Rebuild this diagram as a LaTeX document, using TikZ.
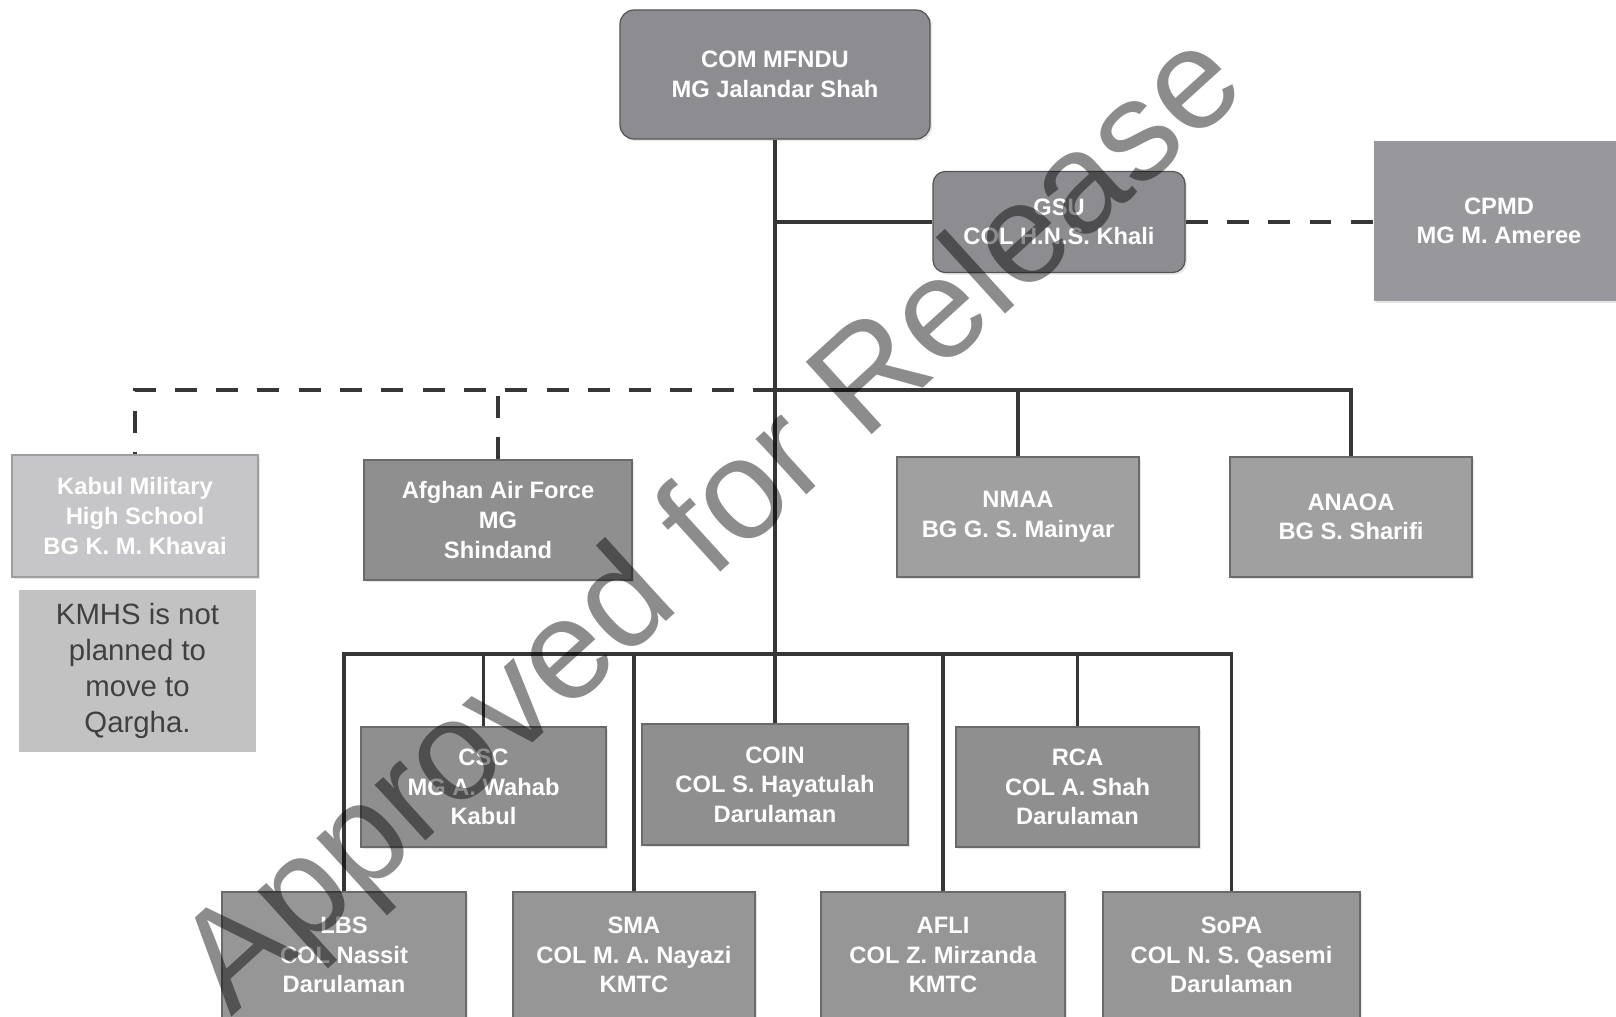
\documentclass[tikz,border=0pt]{standalone}
\usepackage{fontspec}
\setmainfont{Liberation Sans}
\usetikzlibrary{shadows}

\definecolor{headgray}{HTML}{8D8D91}
\definecolor{unitgray}{HTML}{8F8F8F}
\definecolor{lowgray}{HTML}{969696}
\definecolor{sidegray}{HTML}{A0A0A0}
\definecolor{palegray}{HTML}{C6C6C8}
\definecolor{notegray}{HTML}{C2C2C2}
\definecolor{edgegray}{HTML}{6A6A6A}
\definecolor{linegray}{HTML}{363636}

\begin{document}
\begin{tikzpicture}[x=0.2mm,y=-0.2mm,
    unit/.style={draw=edgegray,line width=0.7pt,fill=#1,text=white,align=center,inner sep=0pt,
        font=\bfseries\fontsize{13.5}{16.8}\selectfont,
        drop shadow={opacity=0.2,shadow xshift=1.2pt,shadow yshift=-1.2pt}},
    unit/.default=unitgray,
    link/.style={draw=linegray,line width=1.8pt},
    dashlink/.style={draw=linegray,line width=2.6pt,dash pattern=on 12.5pt off 11pt}]
    \useasboundingbox (0,0) rectangle (1616,1016);
    \clip (0,0) rectangle (1616,1016);
    %top of the chart
    \node[unit=headgray,draw=edgegray!80!black,rounded corners=8pt,minimum width=62mm,minimum height=25.8mm] (com) at (775,74.5) {COM MFNDU\\MG Jalandar Shah};
    \node[unit=headgray,draw=edgegray!80!black,rounded corners=7pt,minimum width=50.4mm,minimum height=20.2mm] (gsu) at (1059,222) {GSU\\COL H.N.S. Khali};
    \node[unit=headgray!90!white,draw=none,minimum width=50mm,minimum height=32mm] (cpmd) at (1499,221) {CPMD\\MG M. Ameree};
    %second row
    \node[unit=palegray,draw=palegray!80!black,minimum width=49.2mm,minimum height=24.4mm] (kmil) at (135,516) {Kabul Military\\High School\\BG K. M. Khavai};
    \node[fill=notegray,text=black!75,align=center,inner sep=0pt,minimum width=47.4mm,minimum height=32.4mm,
        font=\fontsize{16.7}{20.4}\selectfont] (note) at (137.5,671) {KMHS is not\\planned to\\move to\\Qargha.};
    \node[unit,minimum width=53.6mm,minimum height=24mm] (aaf) at (498,520) {Afghan Air Force\\MG\\Shindand};
    \node[unit=sidegray,minimum width=48.4mm,minimum height=24mm] (nmaa) at (1018,517) {NMAA\\BG G. S. Mainyar};
    \node[unit=sidegray,minimum width=48.4mm,minimum height=24mm] (anaoa) at (1351,517) {ANAOA\\BG S. Sharifi};
    %third and fourth rows
    \node[unit,minimum width=49mm,minimum height=24mm] (csc) at (483.5,787) {CSC\\MG A. Wahab\\Kabul};
    \node[unit,minimum width=53.2mm,minimum height=24.2mm] (coin) at (775,784.5) {COIN\\COL S. Hayatulah\\Darulaman};
    \node[unit,minimum width=48.6mm,minimum height=24mm] (rca) at (1077.5,787) {RCA\\COL A. Shah\\Darulaman};
    \node[unit=lowgray,minimum width=48.8mm,minimum height=25.2mm] (lbs) at (344,955) {LBS\\COL Nassit\\Darulaman};
    \node[unit=lowgray,minimum width=48.4mm,minimum height=25.2mm] (sma) at (634,955) {SMA\\COL M. A. Nayazi\\KMTC};
    \node[unit=lowgray,minimum width=48.8mm,minimum height=25.2mm] (afli) at (943,955) {AFLI\\COL Z. Mirzanda\\KMTC};
    \node[unit=lowgray,minimum width=51.4mm,minimum height=25.2mm] (sopa) at (1231.5,955) {SoPA\\COL N. S. Qasemi\\Darulaman};
    %lines
    \coordinate (hub2) at (775,390);
    \coordinate (hub3) at (775,654);
    \draw[link] (com.south) -- (coin.north);
    \draw[link] (com.south |- gsu.west) -- (gsu.west);
    \draw[dashlink] (gsu.east) -- (gsu.east -| cpmd.west);
    \draw[dashlink] (hub2) -| (kmil.north);
    \draw[dashlink] (aaf.north) -- (aaf.north |- hub2);
    \draw[link] (hub2) -| (anaoa.north);
    \draw[link] (nmaa.north) -- (nmaa.north |- hub2);
    \draw[link] (lbs.north) |- (hub3) -| (sopa.north);
    \foreach \n in {csc,sma,rca,afli}
        {%
            \draw[link] (\n.north) -- (\n.north |- hub3);
        }
    %stamp
    \node[rotate=42.3,opacity=0.45,inner sep=0pt,font=\fontsize{81}{81}\selectfont] (stamp) at (716,527) {Approved for Release};
\end{tikzpicture}
\end{document}
